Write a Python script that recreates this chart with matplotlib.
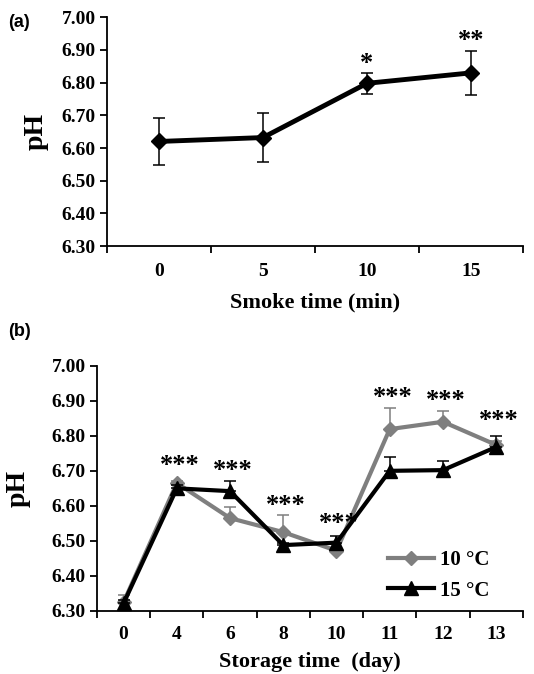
import matplotlib
matplotlib.use("Agg")
import matplotlib.pyplot as plt
from matplotlib.lines import Line2D
import numpy as np

# Panel (a): pH versus smoke time
smoke_labels = ["0", "5", "10", "15"]
smoke_ph = [6.62, 6.632, 6.798, 6.83]
smoke_err = [0.072, 0.075, 0.033, 0.067]
smoke_sig = ["", "", "*", "**"]
smoke_sig_y = [None, None, 6.86, 6.93]

# Panel (b): pH versus storage time at two temperatures
storage_labels = ["0", "4", "6", "8", "10", "11", "12", "13"]
ph_10c = [6.325, 6.665, 6.565, 6.525, 6.472, 6.819, 6.840, 6.774]
err_10c = [0.02, 0.005, 0.031, 0.049, 0.008, 0.06, 0.03, 0.01]
ph_15c = [6.322, 6.650, 6.642, 6.488, 6.495, 6.700, 6.702, 6.768]
err_15c = [0.01, 0.01, 0.03, 0.005, 0.02, 0.04, 0.025, 0.032]
storage_sig = ["", "***", "***", "***", "***", "***", "***", "***"]
storage_sig_y = [None, 6.714, 6.70, 6.60, 6.55, 6.908, 6.90, 6.845]

yticks = np.arange(6.30, 7.001, 0.10)

SERIF = ["Liberation Serif", "DejaVu Serif"]
SANS = ["Liberation Sans", "DejaVu Sans"]
TICK_FS = 14

fig = plt.figure(figsize=(5.34, 6.74), dpi=100)


def style_axes(ax, labels, xlabel, ylabel_x, xpad, labelpad):
    n = len(labels)
    ax.set_xlim(-0.5, n - 0.5)
    ax.set_ylim(6.30, 7.00)
    ax.spines["top"].set_visible(False)
    ax.spines["right"].set_visible(False)
    for s in ("left", "bottom"):
        ax.spines[s].set_linewidth(1.3)
    ax.set_yticks(yticks)
    ax.set_yticklabels([f"{v:.2f}" for v in yticks], fontfamily=SERIF,
                       fontweight="bold", fontsize=TICK_FS)
    # category boundaries carry the tick marks, centres carry the labels
    ax.set_xticks(np.arange(-0.5, n, 1.0))
    ax.set_xticklabels([])
    ax.set_xticks(np.arange(n), minor=True)
    ax.set_xticklabels(labels, minor=True, fontfamily=SERIF,
                       fontweight="bold", fontsize=TICK_FS)
    ax.tick_params(axis="x", which="major", direction="out", length=5, width=1.3)
    ax.tick_params(axis="x", which="minor", length=0, pad=xpad)
    ax.tick_params(axis="y", direction="out", length=5, width=1.3, pad=3)
    ax.set_xlabel(xlabel, fontfamily=SERIF, fontweight="bold", fontsize=16,
                  labelpad=labelpad)
    ax.set_ylabel("pH", fontfamily=SERIF, fontweight="bold", fontsize=20)
    ax.yaxis.set_label_coords(ylabel_x, 0.5)


# ---- (a) ----
ax1 = fig.add_axes([0.2004, 0.635, 0.779, 0.3393])
x1 = np.arange(len(smoke_labels))
ax1.errorbar(x1, smoke_ph, yerr=smoke_err, color="black", lw=3.5,
             marker="D", ms=8, ecolor="black", elinewidth=1.1, capsize=4,
             capthick=1.1, zorder=3)
for xi, s, yv in zip(x1, smoke_sig, smoke_sig_y):
    if s:
        ax1.text(xi, yv, s, ha="center", va="center", fontfamily=SERIF,
                 fontweight="bold", fontsize=19)
style_axes(ax1, smoke_labels, "Smoke time (min)", -0.14, 12, 9)
fig.text(0.015, 0.967, "(a)", fontfamily=SANS, fontweight="bold",
         fontsize=13, ha="left", va="center")

# ---- (b) ----
ax2 = fig.add_axes([0.1816, 0.0935, 0.7974, 0.3639])
x2 = np.arange(len(storage_labels))
gray = "#7f7f7f"
ax2.errorbar(x2, ph_10c, yerr=[np.zeros(len(err_10c)), err_10c], color=gray,
             lw=3, marker="D", ms=7, ecolor=gray, elinewidth=1.1, capsize=4,
             capthick=1.1, zorder=3)
ax2.errorbar(x2, ph_15c, yerr=[np.zeros(len(err_15c)), err_15c],
             color="black", lw=3, marker="^", ms=10, ecolor="black",
             elinewidth=1.1, capsize=4, capthick=1.1, zorder=4)
for xi, s, yv in zip(x2, storage_sig, storage_sig_y):
    if s:
        ax2.text(xi + 0.05, yv, s, ha="center", va="center", fontfamily=SERIF,
                 fontweight="bold", fontsize=19, zorder=5)
style_axes(ax2, storage_labels, "Storage time  (day)", -0.155, 11, 6)

handles = [
    Line2D([], [], color=gray, lw=3, marker="D", ms=7),
    Line2D([], [], color="black", lw=3, marker="^", ms=10),
]
ax2.legend(handles, ["10 \u00b0C", "15 \u00b0C"], loc="center left",
           bbox_to_anchor=(0.64, 0.145), frameon=False, handlelength=2.2,
           handletextpad=0.3, labelspacing=0.5,
           prop={"family": SERIF, "weight": "bold", "size": 15})
fig.text(0.015, 0.508, "(b)", fontfamily=SANS, fontweight="bold",
         fontsize=13, ha="left", va="center")

fig.savefig("out.png", dpi=100)
